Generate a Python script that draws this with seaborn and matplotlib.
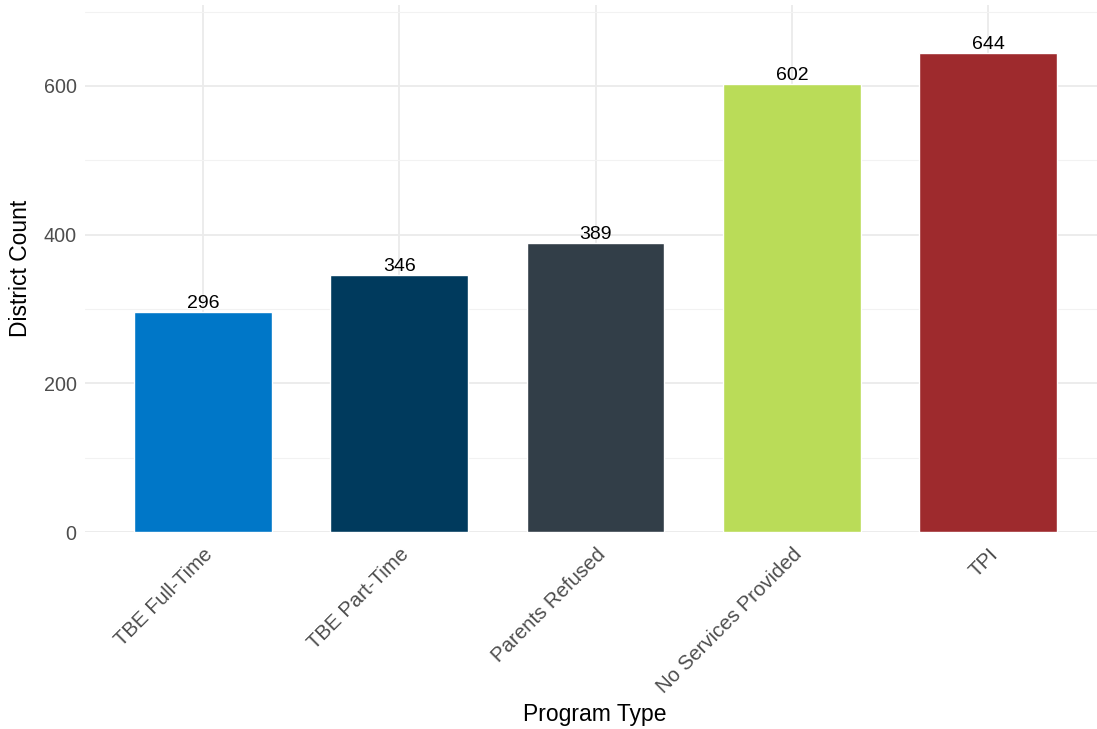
import matplotlib
matplotlib.use("Agg")
import matplotlib.pyplot as plt
import seaborn as sns
import pandas as pd
from matplotlib.ticker import MultipleLocator

categories = ["TBE Full-Time", "TBE Part-Time", "Parents Refused", "No Services Provided", "TPI"]
counts = [296, 346, 389, 602, 644]
colors = ["#0077C8", "#003A5D", "#323E48", "#BADC58", "#9E2A2D"]

df = pd.DataFrame({"Program Type": categories, "District Count": counts})

sns.set_theme(style="whitegrid")
plt.rcParams['font.family'] = ['Liberation Sans', 'DejaVu Sans']

fig = plt.figure(figsize=(10.97, 7.29), dpi=100)
W, H = 1097, 729
left, right, top, bottom = 85, 1106, 5.4, 532
ax = fig.add_axes([left / W, 1 - bottom / H, (right - left) / W, (bottom - top) / H])

sns.barplot(data=df, x="Program Type", y="District Count", hue="Program Type",
            palette=colors, width=0.7, ax=ax, legend=False, saturation=1)

for i, v in enumerate(counts):
    ax.text(i, v, str(v), ha="center", va="bottom", fontsize=14, color="black")

ax.set_xlim(-0.6, 4.6)
ax.set_ylim(0, max(counts) * 1.1)
ax.yaxis.set_major_locator(MultipleLocator(200))
ax.yaxis.set_minor_locator(MultipleLocator(100))
ax.grid(True, which="major", color="#EBEBEB", linewidth=1.3)
ax.grid(True, which="minor", axis="y", color="#F2F2F2", linewidth=0.8)
ax.set_axisbelow(True)
for s in ax.spines.values():
    s.set_visible(False)
ax.tick_params(axis="both", which="both", length=0, labelcolor="#4D4D4D")
ax.tick_params(axis="y", pad=6, labelsize=14.2)
ax.tick_params(axis="x", pad=9, labelsize=14.7)
for lab in ax.get_xticklabels():
    lab.set_rotation(45)
    lab.set_ha("right")
    lab.set_va("top")
    lab.set_rotation_mode("anchor")
ax.set_xlabel("Program Type", fontsize=16.5, color="black", va="center")
ax.xaxis.set_label_coords((595 - left) / (right - left), (bottom - 714) / (bottom - top))
ax.set_ylabel("District Count", fontsize=16.5, color="black", labelpad=8)

fig.savefig("out.png", dpi=100)
